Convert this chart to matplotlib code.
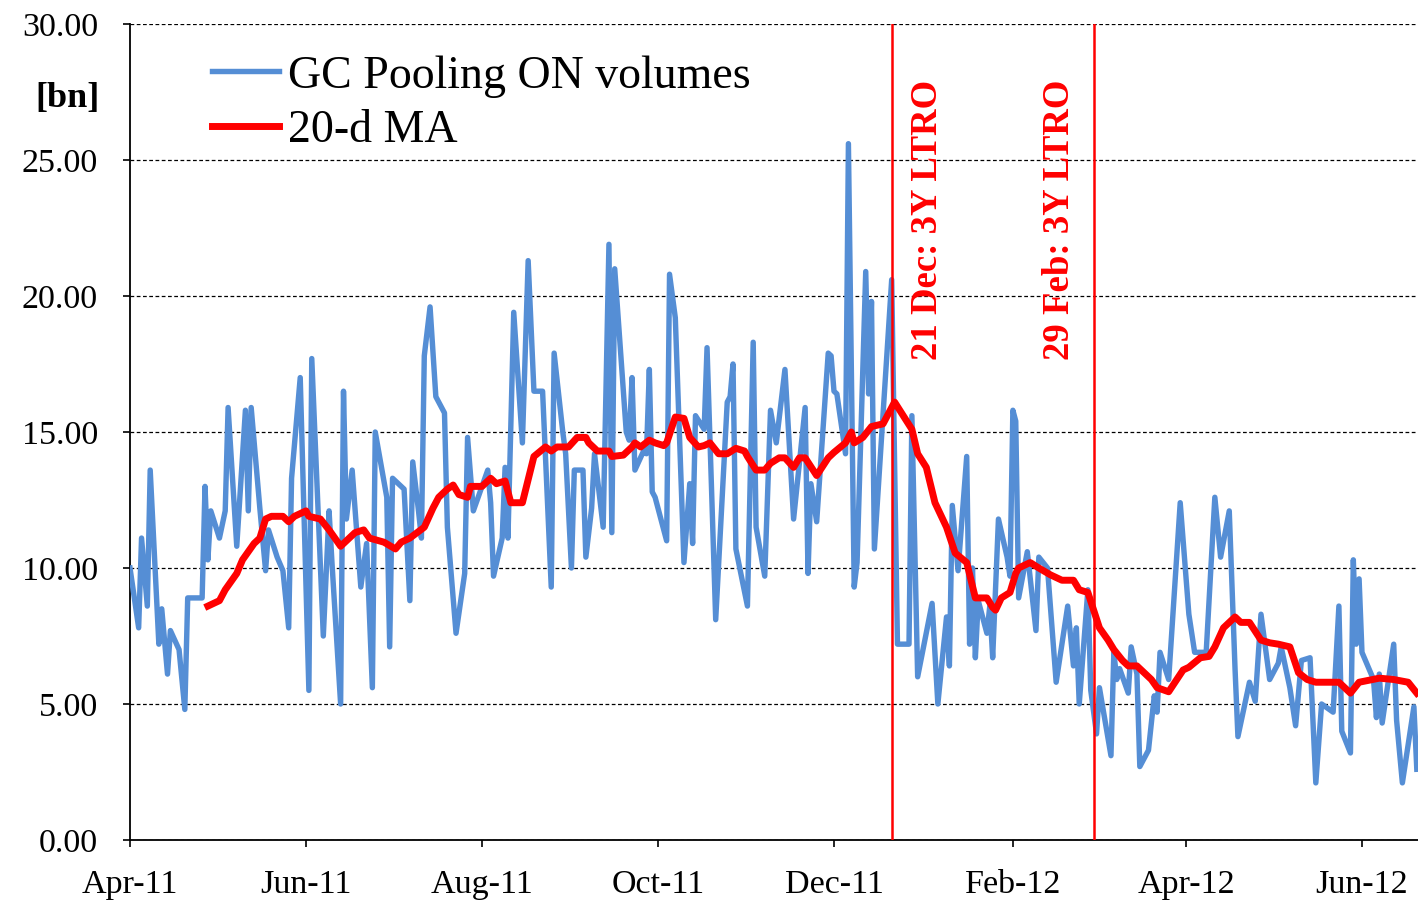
import matplotlib
matplotlib.use('Agg')
import matplotlib.pyplot as plt
import matplotlib.ticker as mticker
import pandas as pd

# ---------------- data ----------------
blue_dates = [
    '2011-04-01', '2011-04-04', '2011-04-05', '2011-04-07', '2011-04-08', '2011-04-11', '2011-04-12',
    '2011-04-14', '2011-04-15', '2011-04-18', '2011-04-20', '2011-04-21', '2011-04-26', '2011-04-27',
    '2011-04-28', '2011-04-29', '2011-05-02', '2011-05-04', '2011-05-05', '2011-05-08', '2011-05-11',
    '2011-05-12', '2011-05-13', '2011-05-16', '2011-05-18', '2011-05-19', '2011-05-22', '2011-05-24',
    '2011-05-26', '2011-05-27', '2011-05-30', '2011-06-02', '2011-06-03', '2011-06-07', '2011-06-09',
    '2011-06-10', '2011-06-13', '2011-06-14', '2011-06-15', '2011-06-17', '2011-06-20', '2011-06-22',
    '2011-06-24', '2011-06-25', '2011-06-29', '2011-06-30', '2011-07-01', '2011-07-05', '2011-07-07',
    '2011-07-08', '2011-07-10', '2011-07-11', '2011-07-12', '2011-07-14', '2011-07-16', '2011-07-19',
    '2011-07-20', '2011-07-23', '2011-07-26', '2011-07-27', '2011-07-29', '2011-08-03', '2011-08-04',
    '2011-08-05', '2011-08-08', '2011-08-09', '2011-08-10', '2011-08-12', '2011-08-15', '2011-08-17',
    '2011-08-19', '2011-08-22', '2011-08-25', '2011-08-26', '2011-08-29', '2011-08-30', '2011-09-01',
    '2011-09-02', '2011-09-05', '2011-09-06', '2011-09-08', '2011-09-09', '2011-09-12', '2011-09-14',
    '2011-09-15', '2011-09-16', '2011-09-20', '2011-09-21', '2011-09-22', '2011-09-23', '2011-09-26',
    '2011-09-27', '2011-09-28', '2011-09-29', '2011-09-30', '2011-10-04', '2011-10-05', '2011-10-07',
    '2011-10-10', '2011-10-12', '2011-10-13', '2011-10-14', '2011-10-17', '2011-10-18', '2011-10-21',
    '2011-10-25', '2011-10-26', '2011-10-27', '2011-10-28', '2011-11-01', '2011-11-03', '2011-11-04',
    '2011-11-07', '2011-11-09', '2011-11-11', '2011-11-14', '2011-11-17', '2011-11-21', '2011-11-22',
    '2011-11-23', '2011-11-25', '2011-11-29', '2011-11-30', '2011-12-01', '2011-12-02', '2011-12-05',
    '2011-12-06', '2011-12-08', '2011-12-09', '2011-12-12', '2011-12-13', '2011-12-14', '2011-12-15',
    '2011-12-21', '2011-12-23', '2011-12-27', '2011-12-28', '2011-12-30', '2012-01-04', '2012-01-06',
    '2012-01-09', '2012-01-10', '2012-01-11', '2012-01-13', '2012-01-16', '2012-01-17', '2012-01-18',
    '2012-01-19', '2012-01-20', '2012-01-23', '2012-01-24', '2012-01-25', '2012-01-27', '2012-01-30',
    '2012-01-31', '2012-02-01', '2012-02-02', '2012-02-03', '2012-02-06', '2012-02-09', '2012-02-10',
    '2012-02-13', '2012-02-16', '2012-02-20', '2012-02-22', '2012-02-23', '2012-02-24', '2012-02-27',
    '2012-02-28', '2012-03-01', '2012-03-02', '2012-03-06', '2012-03-07', '2012-03-08', '2012-03-09',
    '2012-03-12', '2012-03-13', '2012-03-15', '2012-03-16', '2012-03-19', '2012-03-21', '2012-03-22',
    '2012-03-23', '2012-03-26', '2012-03-30', '2012-04-02', '2012-04-04', '2012-04-08', '2012-04-11',
    '2012-04-13', '2012-04-16', '2012-04-18', '2012-04-19', '2012-04-23', '2012-04-25', '2012-04-27',
    '2012-04-30', '2012-05-01', '2012-05-03', '2012-05-04', '2012-05-07', '2012-05-09', '2012-05-11',
    '2012-05-14', '2012-05-16', '2012-05-18', '2012-05-22', '2012-05-24', '2012-05-25', '2012-05-28',
    '2012-05-29', '2012-05-30', '2012-05-31', '2012-06-01', '2012-06-05', '2012-06-06', '2012-06-07',
    '2012-06-08', '2012-06-12', '2012-06-13', '2012-06-15', '2012-06-18', '2012-06-19', '2012-06-20',
]
blue_vals = [
    10.0, 7.8, 11.1, 8.6, 13.6, 7.2, 8.5,
    6.1, 7.7, 7.0, 4.8, 8.9, 8.9, 13.0,
    10.3, 12.1, 11.1, 12.1, 15.9, 10.8, 15.8,
    12.1, 15.9, 12.2, 9.9, 11.4, 10.4, 9.9,
    7.8, 13.3, 17.0, 5.5, 17.7, 7.5, 12.1,
    10.2, 5.0, 16.5, 11.8, 13.6, 9.3, 10.9,
    5.6, 15.0, 12.6, 7.1, 13.3, 12.9, 8.8,
    13.9, 12.1, 11.1, 17.8, 19.6, 16.3, 15.7,
    11.5, 7.6, 9.8, 14.8, 12.1, 13.6, 12.4,
    9.7, 11.1, 13.7, 11.1, 19.4, 14.6, 21.3,
    16.5, 16.5, 9.3, 17.9, 15.0, 14.2, 10.0,
    13.6, 13.6, 10.4, 12.2, 14.2, 11.5, 21.9,
    11.3, 21.0, 15.0, 14.7, 17.0, 13.6, 14.3,
    14.2, 17.3, 12.8, 12.6, 11.0, 20.8, 19.2,
    10.2, 13.1, 10.9, 15.6, 15.1, 18.1, 8.1,
    16.1, 16.3, 17.5, 10.7, 8.6, 18.3, 11.5,
    9.7, 15.8, 14.6, 17.3, 11.8, 15.9, 9.8,
    13.1, 11.7, 17.9, 17.8, 16.5, 16.4, 14.2,
    25.6, 9.3, 10.2, 20.9, 16.4, 19.8, 10.7,
    20.6, 7.2, 7.2, 15.6, 6.0, 8.7, 5.0,
    8.2, 6.4, 12.3, 9.9, 14.1, 7.2, 10.0,
    6.7, 8.8, 7.6, 8.6, 6.7, 11.8, 10.4,
    9.7, 15.8, 15.4, 8.9, 10.6, 7.7, 10.4,
    10.0, 5.8, 8.6, 6.4, 7.8, 5.0, 9.2,
    5.5, 3.9, 5.6, 3.1, 6.9, 5.9, 6.3,
    5.4, 7.1, 6.1, 2.7, 3.3, 5.3, 4.7,
    6.9, 5.9, 12.4, 8.3, 6.9, 6.9, 12.6,
    10.4, 12.1, 6.3, 3.8, 5.8, 5.1, 8.3,
    5.9, 6.1, 6.5, 7.1, 5.6, 4.2, 6.6,
    6.7, 2.1, 5.0, 4.7, 8.6, 4.0, 3.2,
    10.3, 7.2, 9.6, 6.9, 5.9, 4.5, 6.1,
    4.3, 7.2, 4.4, 2.1, 4.2, 4.9, 2.6,
]

ma_dates = [
    '2011-04-28', '2011-05-02', '2011-05-04', '2011-05-06', '2011-05-08', '2011-05-10', '2011-05-14',
    '2011-05-16', '2011-05-18', '2011-05-20', '2011-05-24', '2011-05-26', '2011-05-28', '2011-06-01',
    '2011-06-02', '2011-06-06', '2011-06-09', '2011-06-13', '2011-06-15', '2011-06-18', '2011-06-21',
    '2011-06-23', '2011-06-28', '2011-07-02', '2011-07-04', '2011-07-07', '2011-07-12', '2011-07-15',
    '2011-07-17', '2011-07-20', '2011-07-22', '2011-07-24', '2011-07-27', '2011-07-28', '2011-08-01',
    '2011-08-04', '2011-08-06', '2011-08-09', '2011-08-11', '2011-08-15', '2011-08-19', '2011-08-23',
    '2011-08-25', '2011-08-27', '2011-08-31', '2011-09-03', '2011-09-06', '2011-09-07', '2011-09-10',
    '2011-09-14', '2011-09-15', '2011-09-19', '2011-09-22', '2011-09-23', '2011-09-25', '2011-09-28',
    '2011-09-30', '2011-10-03', '2011-10-04', '2011-10-07', '2011-10-10', '2011-10-12', '2011-10-15',
    '2011-10-17', '2011-10-19', '2011-10-22', '2011-10-25', '2011-10-28', '2011-10-31', '2011-11-01',
    '2011-11-04', '2011-11-07', '2011-11-09', '2011-11-12', '2011-11-14', '2011-11-17', '2011-11-19',
    '2011-11-21', '2011-11-25', '2011-11-29', '2011-12-01', '2011-12-05', '2011-12-07', '2011-12-08',
    '2011-12-11', '2011-12-14', '2011-12-18', '2011-12-22', '2011-12-28', '2011-12-30', '2012-01-02',
    '2012-01-05', '2012-01-09', '2012-01-12', '2012-01-16', '2012-01-19', '2012-01-23', '2012-01-25',
    '2012-01-26', '2012-01-28', '2012-01-31', '2012-02-02', '2012-02-03', '2012-02-07', '2012-02-10',
    '2012-02-14', '2012-02-18', '2012-02-22', '2012-02-24', '2012-02-27', '2012-02-29', '2012-03-02',
    '2012-03-05', '2012-03-07', '2012-03-10', '2012-03-12', '2012-03-15', '2012-03-20', '2012-03-22',
    '2012-03-26', '2012-03-31', '2012-04-02', '2012-04-06', '2012-04-09', '2012-04-11', '2012-04-14',
    '2012-04-18', '2012-04-20', '2012-04-23', '2012-04-27', '2012-04-30', '2012-05-03', '2012-05-07',
    '2012-05-10', '2012-05-13', '2012-05-16', '2012-05-19', '2012-05-24', '2012-05-28', '2012-05-31',
    '2012-06-07', '2012-06-12', '2012-06-17', '2012-06-20',
]
ma_vals = [
    8.6, 8.8, 9.2, 9.5, 9.8, 10.3, 10.9,
    11.1, 11.8, 11.9, 11.9, 11.7, 11.9, 12.1,
    11.9, 11.8, 11.4, 10.8, 11.0, 11.3, 11.4,
    11.1, 10.95, 10.7, 10.95, 11.1, 11.5, 12.2,
    12.6, 12.9, 13.05, 12.7, 12.6, 13.0, 13.0,
    13.3, 13.1, 13.2, 12.4, 12.4, 14.1, 14.45,
    14.3, 14.45, 14.45, 14.8, 14.8, 14.6, 14.3,
    14.3, 14.1, 14.15, 14.45, 14.6, 14.45, 14.7,
    14.6, 14.5, 14.6, 15.55, 15.5, 14.8, 14.45,
    14.5, 14.6, 14.2, 14.2, 14.4, 14.3, 14.1,
    13.6, 13.6, 13.85, 14.05, 14.05, 13.7, 14.05,
    14.05, 13.4, 14.05, 14.25, 14.6, 15.0, 14.6,
    14.8, 15.2, 15.3, 16.1, 15.1, 14.2, 13.7,
    12.4, 11.5, 10.55, 10.2, 8.9, 8.9, 8.55,
    8.45, 8.9, 9.1, 9.8, 10.0, 10.2, 10.0,
    9.75, 9.55, 9.55, 9.2, 9.1, 8.45, 7.8,
    7.35, 7.0, 6.6, 6.4, 6.4, 5.9, 5.6,
    5.45, 6.25, 6.35, 6.7, 6.75, 7.1, 7.8,
    8.2, 8.0, 8.0, 7.35, 7.25, 7.2, 7.1,
    6.15, 5.9, 5.8, 5.8, 5.8, 5.4, 5.8,
    5.95, 5.9, 5.8, 5.4,
]

ltro_dates = ['2011-12-21', '2012-02-29']
ltro_labels = ['21 Dec: 3Y LTRO', '29 Feb: 3Y LTRO']

tick_dates = ['2011-04-01', '2011-06-01', '2011-08-01', '2011-10-01',
              '2011-12-01', '2012-02-01', '2012-04-01', '2012-06-01']
tick_labels = ['Apr-11', 'Jun-11', 'Aug-11', 'Oct-11', 'Dec-11', 'Feb-12', 'Apr-12', 'Jun-12']

series_names = ['GC Pooling ON volumes', '20-d MA']

# ---------------- style ----------------
BLUE = '#558ED5'
RED = '#FF0000'
plt.rcParams['font.family'] = ['Liberation Serif', 'DejaVu Serif']

W, H = 1418, 902
fig = plt.figure(figsize=(W / 100, H / 100), dpi=100)
ax = fig.add_axes([130 / W, 62 / H, 1288 / W, 816 / H])

ax.plot(pd.to_datetime(blue_dates), blue_vals, color=BLUE, lw=3.9,
        solid_joinstyle='round', label=series_names[0], zorder=3)
ax.plot(pd.to_datetime(ma_dates), ma_vals, color=RED, lw=5.0,
        solid_joinstyle='round', label=series_names[1], zorder=4)

for d in ltro_dates:
    ax.axvline(pd.Timestamp(d), color=RED, lw=1.8, zorder=5)

label_pos = [0.619, 0.722]
for xp, txt in zip(label_pos, ltro_labels):
    ax.text(xp, 0.588, txt, transform=ax.transAxes, rotation=90, color=RED,
            fontweight='bold', fontsize=26.5, ha='center', va='bottom', zorder=6)

ax.set_xlim(pd.Timestamp('2011-04-01'), pd.Timestamp('2012-06-20 10:00'))
ax.set_ylim(0, 30)
ax.set_yticks(range(0, 31, 5))
ax.yaxis.set_major_formatter(mticker.FormatStrFormatter('%.2f'))
ax.set_xticks(pd.to_datetime(tick_dates))
ax.set_xticklabels(tick_labels)

ax.yaxis.grid(True, linestyle=(0, (3, 2)), color='black', lw=0.9)
ax.set_axisbelow(True)

for s in ['top', 'right']:
    ax.spines[s].set_visible(False)
for s in ['left', 'bottom']:
    ax.spines[s].set_color('black')
    ax.spines[s].set_linewidth(1.3)

ax.tick_params(axis='both', labelsize=24.5, length=5, width=1.2, direction='out', colors='black')
ax.tick_params(axis='x', pad=16)
ax.tick_params(axis='y', pad=18)

leg = ax.legend(loc='upper left', bbox_to_anchor=(0.0637, 0.962), frameon=False,
                fontsize=33, handlelength=1.45, handletextpad=0.2, labelspacing=0.27,
                borderpad=0, borderaxespad=0)

fig.text(67 / W, 1 - 98 / H, '[bn]', fontweight='bold', fontsize=26, ha='center', va='center')

fig.savefig('out.png', dpi=100)
